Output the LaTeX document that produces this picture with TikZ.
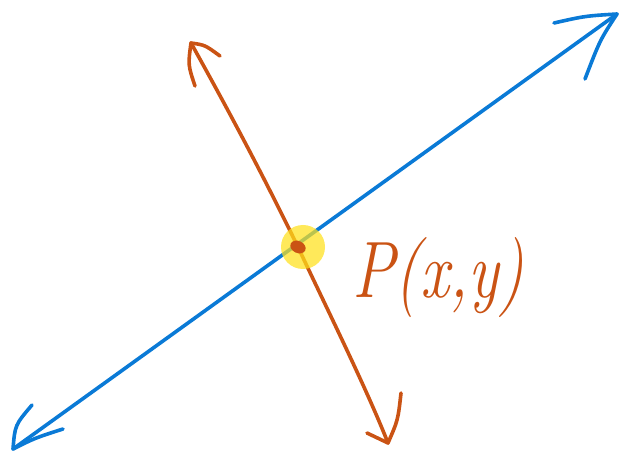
\documentclass[tikz,border=0pt]{standalone}
\usepackage{fontspec}
\usetikzlibrary{shapes.geometric}
\definecolor{inkblue}{HTML}{0A7AD6}
\definecolor{inkorange}{HTML}{CA5314}
\definecolor{hl}{HTML}{FFE01A}
\begin{document}
\begin{tikzpicture}[x=1pt,y=-1pt, line cap=round, line join=round,
  blueline/.style={draw=inkblue, line width=3.6pt},
  orangeline/.style={draw=inkorange, line width=3.6pt},
  glow/.style={circle, fill=hl, fill opacity=0.72, minimum size=44pt, inner sep=0pt},
  dot/.style={ellipse, fill=inkorange, minimum width=16pt, minimum height=12pt, inner sep=0pt, rotate=-25},
  lbl/.style={text=inkorange, anchor=base west, inner sep=0pt, font=\fontsize{80}{80}\selectfont\itshape}]
\useasboundingbox (0,0) rectangle (627,454);
\coordinate (bl) at (13,449);
\coordinate (tr) at (617,14);
\coordinate (ot) at (191,43);
\coordinate (ob) at (388,443);
\coordinate (p) at (298,247);
% blue line
\draw[blueline] (bl) -- (tr);
\draw[blueline] (554,23) .. controls (585,16) .. (tr) .. controls (600,40) .. (585,79);
\draw[blueline] (32,405) .. controls (15,425) .. (bl) .. controls (35,438) .. (63,429);
% orange line
\draw[orangeline] (ot) .. controls (245,140) and (275,200) .. (p) .. controls (325,305) and (365,385) .. (ob);
\draw[orangeline] (195,86) .. controls (188,65) .. (ot) .. controls (205,45) .. (220,56);
\draw[orangeline] (367,433) .. controls (378,438) .. (ob) .. controls (398,420) .. (401,393);
% highlight and point
\node[glow] (g) at (303,247) {};
\node[dot] (pt) at (p) {};
\node[lbl] (label) at (352,298) {\scalebox{0.8}[1]{P(x,y)}};
\end{tikzpicture}
\end{document}
